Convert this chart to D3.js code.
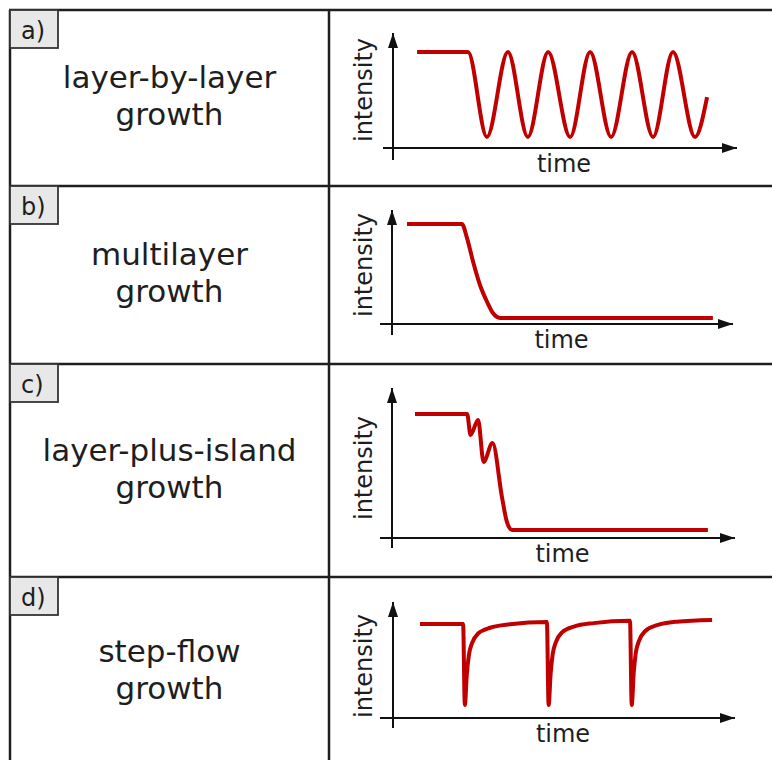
<!DOCTYPE html>
<meta charset="utf-8">
<script src="https://d3js.org/d3.v7.min.js"></script>
<style>
  body { margin: 0; background: #fff; }
  text { font-family: "DejaVu Sans", Verdana, sans-serif; fill: #1e1e1e; }
</style>
<div id="chart"></div>
<script>

// panel names and labels
var letters = ["a)", "b)", "c)", "d)"];
var titles = [
  ["layer-by-layer", "growth"],
  ["multilayer", "growth"],
  ["layer-plus-island", "growth"],
  ["step-flow", "growth"]
];

// curves (time 0..100, intensity 0..1)
var timeA = [7.0, 21.8, 27.3, 33.4, 39.2, 45.1, 51.5, 57.3, 63.4, 69.5, 75.6, 81.4, 87.8, 91.3];
var intensA = [0.835, 0.835, 0.096, 0.835, 0.096, 0.835, 0.096, 0.835, 0.096, 0.835, 0.096, 0.835, 0.096, 0.443];

var timeB = [4.4, 20.5, 22.0, 23.8, 25.8, 27.9, 29.6, 31.7, 94.1];
var intensB = [0.877, 0.877, 0.754, 0.544, 0.342, 0.193, 0.096, 0.053, 0.053];

var timeC = [6.7, 21.9, 22.9, 25.1, 26.7, 29.3, 32.1, 33.5, 35.0, 92.1];
var intensC = [0.827, 0.827, 0.687, 0.787, 0.507, 0.633, 0.267, 0.107, 0.053, 0.053];

var timeD = [7.9, 20.5, 21.0, 21.6, 22.2, 23.1, 24.9, 28.4, 34.2, 45.0,
             45.5, 46.1, 46.7, 47.6, 49.4, 52.9, 58.7, 69.3,
             69.8, 70.4, 71.0, 71.9, 73.7, 77.2, 83.0, 93.3];
var intensD = [0.810, 0.810, 0.112, 0.380, 0.545, 0.645, 0.728, 0.778, 0.808, 0.828,
               0.112, 0.385, 0.552, 0.652, 0.738, 0.788, 0.818, 0.838,
               0.112, 0.395, 0.562, 0.662, 0.748, 0.800, 0.830, 0.845];

var series = [[timeA, intensA], [timeB, intensB], [timeC, intensC], [timeD, intensD]];

// layout
var W = 772, H = 760;
var rowTops = [10, 186, 364, 577];
var rowBottom = 766;
var leftX = 10, midX = 329;

// per-panel plot frame: y-axis x, x-axis y, arrow tips, text spots
var frames = [
  {ax: 393, x0: 383, x1: 737, ay: 148, y1: 33,  yb: 160, iy: 90},
  {ax: 392, x0: 380, x1: 733, ay: 324, y1: 210, yb: 335, iy: 265},
  {ax: 392, x0: 380, x1: 735, ay: 538, y1: 388, yb: 548, iy: 468},
  {ax: 393, x0: 380, x1: 735, ay: 718, y1: 602, yb: 728, iy: 666}
];

var svg = d3.select("#chart").append("svg")
    .attr("width", W)
    .attr("height", H);

svg.append("defs").append("marker")
    .attr("id", "arrow")
    .attr("viewBox", "0 -5 15 10")
    .attr("refX", 15)
    .attr("refY", 0)
    .attr("markerUnits", "userSpaceOnUse")
    .attr("markerWidth", 15)
    .attr("markerHeight", 10)
    .attr("orient", "auto")
  .append("path")
    .attr("d", "M0,-5L15,0L0,5Z")
    .attr("fill", "#111");

// grid of the table
var border = svg.append("g")
    .attr("stroke", "#1e1e1e")
    .attr("stroke-width", 2.5);

rowTops.forEach(function(t) {
  border.append("line")
    .attr("x1", leftX - 1).attr("x2", W)
    .attr("y1", t).attr("y2", t);
});
border.append("line")
  .attr("x1", leftX).attr("x2", leftX)
  .attr("y1", rowTops[0]).attr("y2", rowBottom);
border.append("line")
  .attr("x1", midX).attr("x2", midX)
  .attr("y1", rowTops[0]).attr("y2", rowBottom);

var line = d3.line().curve(d3.curveMonotoneX);

rowTops.forEach(function(top, i) {
  var bottom = i < 3 ? rowTops[i + 1] : rowBottom;
  var cy = (top + bottom) / 2;
  var f = frames[i];

  // letter box
  svg.append("rect")
    .attr("x", leftX)
    .attr("y", top)
    .attr("width", 48)
    .attr("height", 38)
    .attr("fill", "#e8e8e8")
    .attr("stroke", "#333")
    .attr("stroke-width", 1.8);
  svg.append("text")
    .attr("x", 21)
    .attr("y", top + 29)
    .style("font-size", "24px")
    .text(letters[i]);

  // title
  svg.append("text")
    .attr("x", (leftX + midX) / 2)
    .attr("y", cy - 10)
    .attr("text-anchor", "middle")
    .style("font-size", "31px")
    .text(titles[i][0]);
  svg.append("text")
    .attr("x", (leftX + midX) / 2)
    .attr("y", cy + 27)
    .attr("text-anchor", "middle")
    .style("font-size", "31px")
    .text(titles[i][1]);

  // scales
  var x = d3.scaleLinear().domain([0, 100]).range([f.ax, f.x1]);
  var y = d3.scaleLinear().domain([0, 1]).range([f.ay, f.y1]);

  // axes
  svg.append("line")
    .attr("x1", f.x0).attr("x2", x.range()[1])
    .attr("y1", y(0)).attr("y2", y(0))
    .attr("stroke", "#111")
    .attr("stroke-width", 2)
    .attr("marker-end", "url(#arrow)");
  svg.append("line")
    .attr("x1", x(0)).attr("x2", x(0))
    .attr("y1", f.yb).attr("y2", y.range()[1])
    .attr("stroke", "#111")
    .attr("stroke-width", 2)
    .attr("marker-end", "url(#arrow)");

  svg.append("text")
    .attr("x", (f.ax + f.x1) / 2 - 1)
    .attr("y", f.ay + 24)
    .attr("text-anchor", "middle")
    .style("font-size", "24px")
    .text("time");
  svg.append("text")
    .attr("transform", "translate(372," + f.iy + ") rotate(-90)")
    .attr("text-anchor", "middle")
    .style("font-size", "24px")
    .text("intensity");

  // curve
  var pts = series[i][0].map(function(t, k) { return [x(t), y(series[i][1][k])]; });
  svg.append("path")
    .attr("d", line(pts))
    .attr("fill", "none")
    .attr("stroke", "#c00000")
    .attr("stroke-width", 4)
    .attr("stroke-linejoin", "round");
});

</script>
